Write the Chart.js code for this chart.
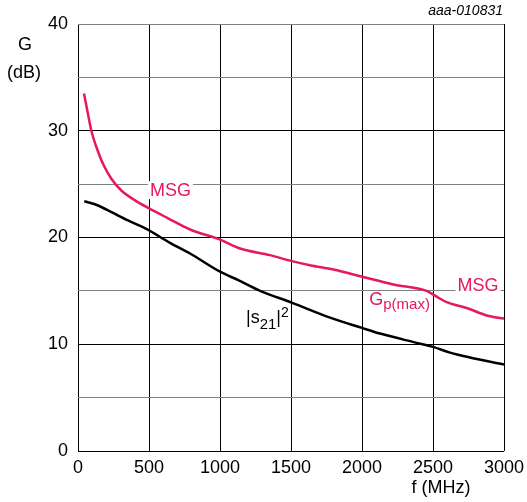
<!DOCTYPE html>
<html>
<head>
<meta charset="utf-8">
<script src="https://cdn.jsdelivr.net/npm/chart.js@4"></script>
<style>
  body { margin: 0; background: #fff; }
  canvas { display: block; }
</style>
</head>
<body>
<canvas id="chart" width="527" height="502"></canvas>
<script>
// frequency (MHz) / gain (dB)
const msgFreq = [42, 70, 94, 129, 176, 235, 305, 399, 504, 634, 789, 1000, 1141, 1352, 1500, 1634, 1798, 2009, 2220, 2455, 2520, 2596, 2737, 2878, 3000];
const msgGain = [33.5, 31.6, 30.0, 28.5, 26.9, 25.5, 24.4, 23.5, 22.7, 21.8, 20.75, 19.8, 18.97, 18.35, 17.81, 17.4, 17.0, 16.3, 15.6, 15.0, 14.5, 13.95, 13.4, 12.7, 12.4];

const s21Freq = [44, 141, 233, 352, 481, 648, 789, 1000, 1129, 1282, 1505, 1775, 2000, 2127, 2385, 2500, 2620, 2760, 3000];
const s21Gain = [23.4, 23.0, 22.4, 21.6, 20.8, 19.5, 18.5, 16.8, 16.0, 15.0, 13.9, 12.5, 11.53, 11.0, 10.13, 9.75, 9.22, 8.76, 8.1];

const xTicks = [0, 500, 1000, 1500, 2000, 2500, 3000];
const yTicks = [0, 10, 20, 30, 40];

const PINK = '#e6195a';
const FONT = 'Liberation Sans, Arial, sans-serif';

function toPoints(xs, ys) {
    return xs.map((x, i) => ({ x: x, y: ys[i] }));
}

// draws a run of text pieces: [text, size, dy]
function drawPieces(ctx, x, y, pieces, color) {
    ctx.fillStyle = color;
    ctx.textBaseline = 'alphabetic';
    ctx.textAlign = 'left';
    pieces.forEach(p => {
        ctx.font = p[1] + 'px ' + FONT;
        ctx.fillText(p[0], x, y + p[2]);
        x += ctx.measureText(p[0]).width;
    });
}

function boxedLabel(ctx, text, cx, cy, color) {
    ctx.font = '18px ' + FONT;
    const w = ctx.measureText(text).width;
    ctx.fillStyle = '#fff';
    ctx.fillRect(cx - w / 2 - 2, cy - 9, w + 4, 18);
    ctx.fillStyle = color;
    ctx.textAlign = 'center';
    ctx.textBaseline = 'middle';
    ctx.fillText(text, cx, cy + 1);
}

const labelPlugin = {
    id: 'labels',
    beforeDatasetsDraw(chart) {
        const ctx = chart.ctx;
        const xs = chart.scales.x, ys = chart.scales.y;
        ctx.save();
        boxedLabel(ctx, 'MSG', xs.getPixelForValue(651), ys.getPixelForValue(24.44), PINK);
        boxedLabel(ctx, 'MSG', xs.getPixelForValue(2817), ys.getPixelForValue(15.53), PINK);
        drawPieces(ctx, xs.getPixelForValue(1183), ys.getPixelForValue(11.97),
            [['|s', 18, 0], ['21', 15, 6], ['|', 18, 0], ['2', 14, -6]], '#000');
        const gx = xs.getPixelForValue(2051), gy = ys.getPixelForValue(13.66);
        ctx.font = '15px ' + FONT;
        const sw = ctx.measureText('p(max)').width;
        ctx.fillStyle = '#fff';
        ctx.fillRect(gx + 12, gy - 8, sw + 3, 16);
        drawPieces(ctx, gx, gy, [['G', 18, 0], ['p(max)', 15, 4]], PINK);
        ctx.restore();
    },
    afterDraw(chart) {
        const ctx = chart.ctx;
        ctx.save();
        ctx.fillStyle = '#000';
        ctx.font = '18px ' + FONT;
        ctx.textAlign = 'center';
        ctx.textBaseline = 'middle';
        ctx.fillText('G', 25, 45);
        ctx.fillText('(dB)', 24, 73);
        ctx.fillText('f (MHz)', 441, 488);
        ctx.font = 'italic 14px ' + FONT;
        ctx.textAlign = 'right';
        ctx.fillText('aaa-010831', 503, 11);
        ctx.restore();
    }
};

new Chart(document.getElementById('chart'), {
    type: 'scatter',
    data: {
        datasets: [{
            label: 'MSG / Gp(max)',
            data: toPoints(msgFreq, msgGain),
            showLine: true,
            borderColor: PINK,
            borderWidth: 2.5,
            pointRadius: 0,
            cubicInterpolationMode: 'monotone'
        }, {
            label: '|s21|2',
            data: toPoints(s21Freq, s21Gain),
            showLine: true,
            borderColor: '#000',
            borderWidth: 2.5,
            pointRadius: 0,
            cubicInterpolationMode: 'monotone'
        }]
    },
    options: {
        responsive: false,
        animation: false,
        devicePixelRatio: 1,
        layout: { padding: { left: 0, right: 23, top: 24, bottom: 0 } },
        plugins: {
            legend: { display: false },
            tooltip: { enabled: false }
        },
        scales: {
            x: {
                type: 'linear',
                min: 0,
                max: 3000,
                afterBuildTicks: s => { s.ticks = xTicks.map(v => ({ value: v })); },
                afterFit: s => {
                    s.height = 51;
                    s.paddingLeft = 0;
                    s.paddingRight = 0;
                },
                grid: { color: '#000', lineWidth: 1, drawTicks: false },
                border: { display: false },
                ticks: {
                    color: '#000',
                    font: { family: FONT, size: 18 },
                    padding: 6,
                    maxRotation: 0,
                    callback: v => String(v)
                }
            },
            y: {
                min: 0,
                max: 40,
                afterBuildTicks: s => {
                    const t = [];
                    for (let v = 0; v <= 40; v += 5) t.push({ value: v });
                    s.ticks = t;
                },
                afterFit: s => {
                    s.width = 78;
                    s.paddingTop = 0;
                    s.paddingBottom = 0;
                },
                grid: {
                    color: c => (c.tick.value % 10 === 0 && c.tick.value !== 40) ? '#000' : '#808080',
                    lineWidth: 1,
                    drawTicks: false
                },
                border: { display: false },
                ticks: {
                    color: '#000',
                    font: { family: FONT, size: 18 },
                    padding: 10,
                    callback: v => yTicks.includes(v) ? String(v) : ''
                }
            }
        }
    },
    plugins: [labelPlugin]
});
</script>
</body>
</html>
